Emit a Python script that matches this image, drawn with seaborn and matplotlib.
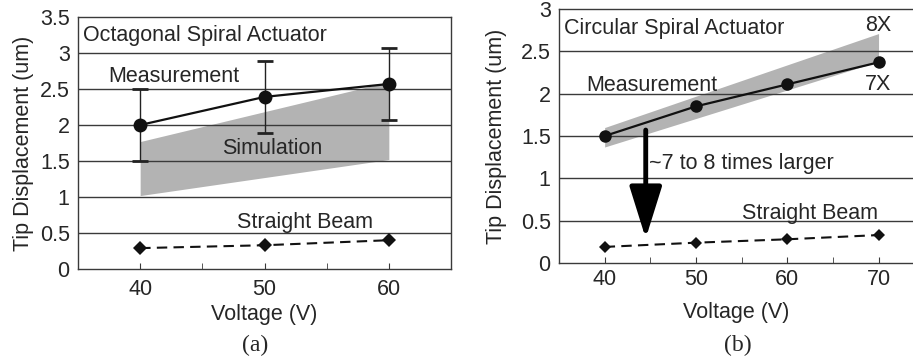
import matplotlib
matplotlib.use("Agg")
import matplotlib.pyplot as plt
import seaborn as sns
import pandas as pd
from matplotlib.ticker import FuncFormatter, MultipleLocator

# (a) octagonal spiral actuator
volt_a = [40, 50, 60]
meas_a = [2.0, 2.39, 2.57]
meas_a_err = [0.5, 0.5, 0.5]
beam_a = [0.29, 0.33, 0.40]
sim_a_x = [40, 60]
sim_a_lo = [1.02, 1.52]
sim_a_hi = [1.77, 2.60]

# (b) circular spiral actuator
volt_b = [40, 50, 60, 70]
meas_b = [1.50, 1.85, 2.11, 2.37]
beam_b = [0.19, 0.24, 0.28, 0.33]
sim_b_x = [40, 70]
sim_b_lo = [1.37, 2.38]
sim_b_hi = [1.60, 2.71]

sns.set_style("ticks")
plt.rcParams["font.family"] = ["Liberation Sans", "DejaVu Sans"]
FS = 15.5
GRID = "#3a3a3a"
BAND = "#b3b3b3"

fig = plt.figure(figsize=(9.13, 3.64), dpi=100)
ax1 = fig.add_axes([78 / 913, 95 / 364, 373 / 913, 252 / 364])
ax2 = fig.add_axes([559 / 913, 101 / 364, 354 / 913, 254 / 364])


def style_axis(ax, xlim, ylim, ytop, xlabels, xpad):
    ax.set_xlim(*xlim)
    ax.set_ylim(*ylim)
    ax.set_axisbelow(True)
    ax.yaxis.set_major_locator(MultipleLocator(0.5))
    ax.yaxis.set_major_formatter(FuncFormatter(lambda v, p: f"{v:g}"))
    ax.set_xticks(xlabels)
    ax.set_xticks([v + 5 for v in xlabels[:-1]], minor=True)
    for s in ax.spines.values():
        s.set_color(GRID)
        s.set_linewidth(1.0)
    for yv in [v * 0.5 for v in range(1, int(ytop * 2))]:
        ax.axhline(yv, color=GRID, lw=1.0, zorder=0.5)
    ax.tick_params(axis="x", which="both", direction="in", length=4,
                   color=GRID, labelsize=FS, pad=xpad)
    ax.tick_params(axis="y", length=0, labelsize=FS, pad=6)


# ---- panel (a)
ax1.fill_between(sim_a_x, sim_a_lo, sim_a_hi, color=BAND, lw=0, zorder=0.3)
ax1.errorbar(volt_a, meas_a, yerr=meas_a_err, fmt="none", ecolor="#222222",
             elinewidth=1.0, capsize=6, capthick=2, zorder=2)
df_a = pd.DataFrame({"V": volt_a, "meas": meas_a, "beam": beam_a})
sns.lineplot(data=df_a, x="V", y="meas", ax=ax1, color="#111111", lw=1.6,
             marker="o", markersize=10, markeredgewidth=0, zorder=3)
sns.lineplot(data=df_a, x="V", y="beam", ax=ax1, color="#111111", lw=1.5,
             linestyle=(0, (5, 3)), marker="D", markersize=7,
             markeredgewidth=0, zorder=3)
style_axis(ax1, (35, 65), (0, 3.5), 3.5, [40, 50, 60], 7)
ax1.set_xlabel("Voltage (V)", fontsize=FS, labelpad=3)
ax1.set_ylabel("Tip Displacement (um)", fontsize=FS, labelpad=4)
ax1.text(35.4, 3.24, "Octagonal Spiral Actuator", fontsize=FS, va="center")
ax1.text(37.4, 2.68, "Measurement", fontsize=FS, va="center")
ax1.text(46.6, 1.67, "Simulation", fontsize=FS, va="center")
ax1.text(47.8, 0.65, "Straight Beam", fontsize=FS, va="center")

# ---- panel (b)
ax2.fill_between(sim_b_x, sim_b_lo, sim_b_hi, color=BAND, lw=0, zorder=0.3)
df_b = pd.DataFrame({"V": volt_b, "meas": meas_b, "beam": beam_b})
sns.lineplot(data=df_b, x="V", y="meas", ax=ax2, color="#111111", lw=1.6,
             marker="o", markersize=9, markeredgewidth=0, zorder=3)
sns.lineplot(data=df_b, x="V", y="beam", ax=ax2, color="#111111", lw=1.5,
             linestyle=(0, (5, 3)), marker="D", markersize=6,
             markeredgewidth=0, zorder=3)
style_axis(ax2, (35, 35 + 354 / 9.13), (0, 3), 3, [40, 50, 60, 70], 4)
ax2.spines["right"].set_visible(False)
ax2.set_xlabel("Voltage (V)", fontsize=FS, labelpad=9)
ax2.set_ylabel("Tip Displacement (um)", fontsize=FS, labelpad=10)
ax2.text(35.5, 2.77, "Circular Spiral Actuator", fontsize=FS, va="center")
ax2.text(70, 2.80, "8X", fontsize=FS, va="center", ha="center")
ax2.text(70, 2.11, "7X", fontsize=FS, va="center", ha="center")
ax2.text(38.0, 2.10, "Measurement", fontsize=FS, va="center")
ax2.text(44.9, 1.17, "~7 to 8 times larger", fontsize=FS, va="center")
ax2.text(55.0, 0.58, "Straight Beam", fontsize=FS, va="center")
ax2.annotate("", xy=(44.5, 0.29), xytext=(44.5, 1.57),
             arrowprops=dict(arrowstyle="-|>,head_length=1.6,head_width=0.5",
                             mutation_scale=20, lw=3.5, color="black",
                             shrinkA=0, shrinkB=0))

fig.text(255 / 913, 1 - 345 / 364, "(a)", family="Liberation Serif",
         fontsize=17, ha="center", va="center")
fig.text(738 / 913, 1 - 345 / 364, "(b)", family="Liberation Serif",
         fontsize=17, ha="center", va="center")

fig.savefig("out.png", dpi=100)
